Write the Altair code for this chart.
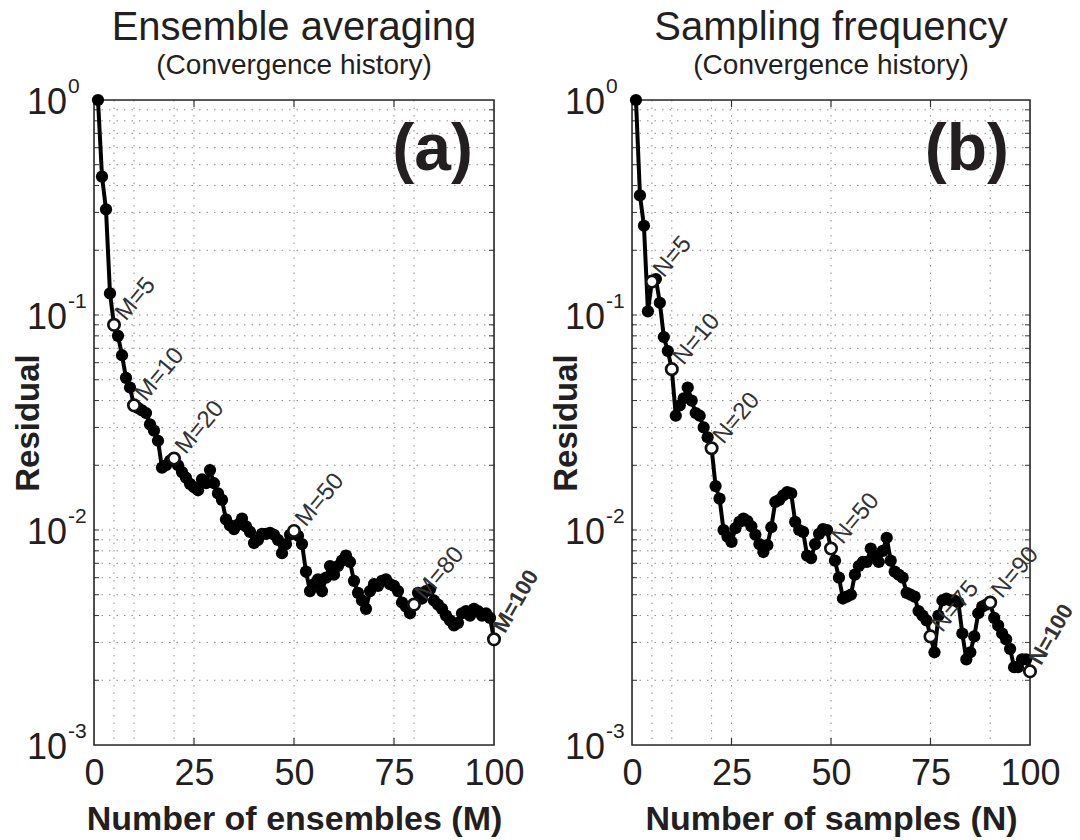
import altair as alt
import pandas as pd

# ---------------- data ----------------
n_index = list(range(1, 101))

residual_a = [
    1.0, 0.44, 0.31, 0.126, 0.090, 0.080, 0.065, 0.051, 0.046, 0.038,
    0.037, 0.036, 0.035, 0.031, 0.029, 0.026, 0.0195, 0.020, 0.021, 0.0215,
    0.020, 0.0186, 0.0175, 0.0164, 0.0158, 0.0153, 0.0172, 0.0165, 0.0190, 0.0165,
    0.0148, 0.0138, 0.0112, 0.0105, 0.0101, 0.0106, 0.0113, 0.0104, 0.0098, 0.0087,
    0.0090, 0.0096, 0.0096, 0.0097, 0.0095, 0.0090, 0.0078, 0.0086, 0.0095, 0.0099,
    0.0094, 0.0086, 0.0064, 0.0052, 0.0056, 0.0059, 0.0052, 0.0060, 0.0068, 0.0062,
    0.0068, 0.0072, 0.0076, 0.0071, 0.0058, 0.0051, 0.0047, 0.0043, 0.0052, 0.0056,
    0.0055, 0.0058, 0.0059, 0.0056, 0.0055, 0.0052, 0.0046, 0.0044, 0.0041, 0.0045,
    0.0051, 0.0048, 0.0052, 0.0053, 0.0047, 0.0045, 0.0043, 0.0040, 0.0038, 0.0036,
    0.0037, 0.0041, 0.0042, 0.0040, 0.0043, 0.0042, 0.0040, 0.0041, 0.0039, 0.0031,
]

residual_b = [
    1.0, 0.36, 0.26, 0.104, 0.143, 0.147, 0.114, 0.079, 0.068, 0.056,
    0.034, 0.038, 0.041, 0.046, 0.040, 0.035, 0.034, 0.030, 0.027, 0.024,
    0.016, 0.014, 0.0100, 0.0093, 0.0088, 0.0102, 0.0109, 0.0113, 0.0110, 0.0104,
    0.0095, 0.0086, 0.0079, 0.0085, 0.0103, 0.0135, 0.0138, 0.0145, 0.0150, 0.0148,
    0.0109, 0.0100, 0.0098, 0.0076, 0.0074, 0.0086, 0.0096, 0.0101, 0.0100, 0.0082,
    0.0072, 0.0060, 0.0048, 0.0049, 0.0050, 0.0062, 0.0068, 0.0071, 0.0071, 0.0082,
    0.0076, 0.0071, 0.0080, 0.0092, 0.0072, 0.0064, 0.0062, 0.0060, 0.0051, 0.0050,
    0.0049, 0.0042, 0.0040, 0.0038, 0.0032, 0.0027, 0.0040, 0.0047, 0.0048, 0.0047,
    0.0047, 0.0046, 0.0033, 0.0025, 0.0027, 0.0032, 0.0041, 0.0044, 0.0045, 0.0046,
    0.0039, 0.0036, 0.0033, 0.0031, 0.0028, 0.0023, 0.0023, 0.0025, 0.0025, 0.0022,
]

ann_a_x = [5, 10, 20, 50, 80, 100]
ann_a_text = ["M=5", "M=10", "M=20", "M=50", "M=80", "M=100"]
ann_b_x = [5, 10, 20, 50, 75, 90, 100]
ann_b_text = ["N=5", "N=10", "N=20", "N=50", "N=75", "N=90", "N=100"]

x_tick_values = [0, 25, 50, 75, 100]
x_inner_ticks = [25, 50, 75]
x_grid_a = [5, 10, 20, 25, 50, 75, 80]
x_grid_b = [5, 10, 20, 25, 50, 75, 90]

y_major = [1.0, 0.1, 0.01, 0.001]
y_exponent = ["0", "-1", "-2", "-3"]
y_grid = [m * d for d in [0.001, 0.01, 0.1] for m in range(1, 10)]
y_grid = [v for v in y_grid if v > 0.001]

titles = ["Ensemble averaging", "Sampling frequency"]
subtitle = "(Convergence history)"
x_titles = ["Number of ensembles (M)", "Number of samples (N)"]
letters = ["(a)", "(b)"]

# ---------------- style ----------------
FONT = "Liberation Sans"
TXT = "#231f20"
GRID = "#8c8c8c"


def panel(res, ann_x, ann_text, x_grid, title, x_title, letter, W, H):
    df = pd.DataFrame({"n": n_index, "r": res})
    ann = df[df["n"].isin(ann_x)].copy()
    ann["label"] = ann_text
    ann["bold"] = [False] * (len(ann_text) - 1) + [True]

    xs = alt.Scale(domain=[0, 100], nice=False, zero=False)
    ys = alt.Scale(type="log", domain=[0.001, 1], nice=False)
    xaxis = alt.Axis(values=x_tick_values, ticks=False, domain=False, grid=False,
                     labelFont=FONT, labelFontSize=36, labelColor=TXT,
                     labelPadding=11, labelFlush=False,
                     title=x_title, titleFont=FONT, titleFontSize=34,
                     titleFontWeight="bold", titleColor=TXT, titlePadding=11)
    yaxis = alt.Axis(labels=False, ticks=False, domain=False, grid=False,
                     title="Residual", titleFont=FONT, titleFontSize=33,
                     titleFontWeight="bold", titleColor=TXT, titlePadding=49)

    def X(f):
        return alt.X(f, type="quantitative", scale=xs, axis=xaxis)

    def Y(f):
        return alt.Y(f, type="quantitative", scale=ys, axis=yaxis)

    ygrid_df = pd.DataFrame({"g": y_grid})
    xgrid_df = pd.DataFrame({"gx": x_grid})
    xt_df = pd.DataFrame({"t": x_inner_ticks})
    ylab_df = pd.DataFrame({"v": y_major, "base": ["10"] * 4, "e": y_exponent})
    one = pd.DataFrame({"k": [0]})

    hgrid = alt.Chart(ygrid_df).mark_rule(color=GRID, strokeWidth=1, strokeDash=[1.5, 6]).encode(
        y=Y("g"), x=alt.value(0), x2=alt.value(W))
    vgrid = alt.Chart(xgrid_df).mark_rule(color=GRID, strokeWidth=1, strokeDash=[1.5, 6]).encode(
        x=X("gx"), y=alt.value(0), y2=alt.value(H))
    lticks = alt.Chart(ygrid_df).mark_rule(color="#333", strokeWidth=1).encode(
        y=Y("g"), x=alt.value(0), x2=alt.value(5))
    rticks = alt.Chart(ygrid_df).mark_rule(color="#333", strokeWidth=1).encode(
        y=Y("g"), x=alt.value(W - 5), x2=alt.value(W))
    bticks = alt.Chart(xt_df).mark_rule(color="#333", strokeWidth=1.2).encode(
        x=X("t"), y=alt.value(H), y2=alt.value(H - 7))
    tticks = alt.Chart(xt_df).mark_rule(color="#333", strokeWidth=1.2).encode(
        x=X("t"), y=alt.value(0), y2=alt.value(7))
    frame = alt.Chart(one).mark_rect(filled=False, stroke="#2a2a2a", strokeWidth=1.6).encode(
        x=alt.value(0), x2=alt.value(W), y=alt.value(0), y2=alt.value(H))

    line = alt.Chart(df).mark_line(color="black", strokeWidth=4).encode(x=X("n"), y=Y("r"))
    dots = alt.Chart(df).mark_circle(color="black", size=150, opacity=1).encode(x=X("n"), y=Y("r"))
    opens = alt.Chart(ann).mark_point(shape="circle", filled=True, fill="white", stroke="#111",
                                      strokeWidth=2.7, size=130, opacity=1).encode(x=X("n"), y=Y("r"))
    lab_norm = alt.Chart(ann[~ann["bold"]]).mark_text(
        angle=310, align="left", baseline="middle", dx=10, font=FONT, fontSize=24, color="#333"
    ).encode(x=X("n"), y=Y("r"), text="label:N")
    lab_bold = alt.Chart(ann[ann["bold"]]).mark_text(
        angle=300, align="left", baseline="middle", dx=10, font=FONT, fontSize=22,
        fontWeight="bold", color="#333"
    ).encode(x=X("n"), y=Y("r"), text="label:N")

    ybase = alt.Chart(ylab_df).mark_text(align="right", baseline="middle", dy=3, font=FONT,
                                         fontSize=36, color=TXT).encode(
        y=Y("v"), x=alt.value(-27), text="base:N")
    yexp = alt.Chart(ylab_df).mark_text(align="left", baseline="middle", dy=-13, font=FONT,
                                        fontSize=21, color=TXT).encode(
        y=Y("v"), x=alt.value(-26), text="e:N")

    letter_df = pd.DataFrame({"t": [letter]})
    let = alt.Chart(letter_df).mark_text(align="right", baseline="middle", font=FONT, fontSize=66,
                                         fontWeight="bold", color=TXT).encode(
        x=alt.value(W - 21), y=alt.value(50), text="t:N")

    return alt.layer(hgrid, vgrid, lticks, rticks, bticks, tticks, frame, line, dots, opens,
                     lab_norm, lab_bold, ybase, yexp, let).properties(
        width=W, height=H,
        title=alt.TitleParams(text=title, subtitle=subtitle, font=FONT, fontSize=40,
                              fontWeight="normal", color=TXT, subtitleFont=FONT,
                              subtitleFontSize=28, subtitleColor=TXT, anchor="middle",
                              frame="group", offset=-4, subtitlePadding=4))


left = panel(residual_a, ann_a_x, ann_a_text, x_grid_a, titles[0], x_titles[0], letters[0], 400, 645)
right = panel(residual_b, ann_b_x, ann_b_text, x_grid_b, titles[1], x_titles[1], letters[1], 398, 645)

chart = alt.hconcat(left, right, spacing=138, bounds="flush").properties(
    padding={"left": 11, "top": 7, "right": 0, "bottom": 4}
).configure_view(strokeOpacity=0).configure(background="white")

chart.save("out.html", embed_options={"renderer": "svg", "actions": False})
